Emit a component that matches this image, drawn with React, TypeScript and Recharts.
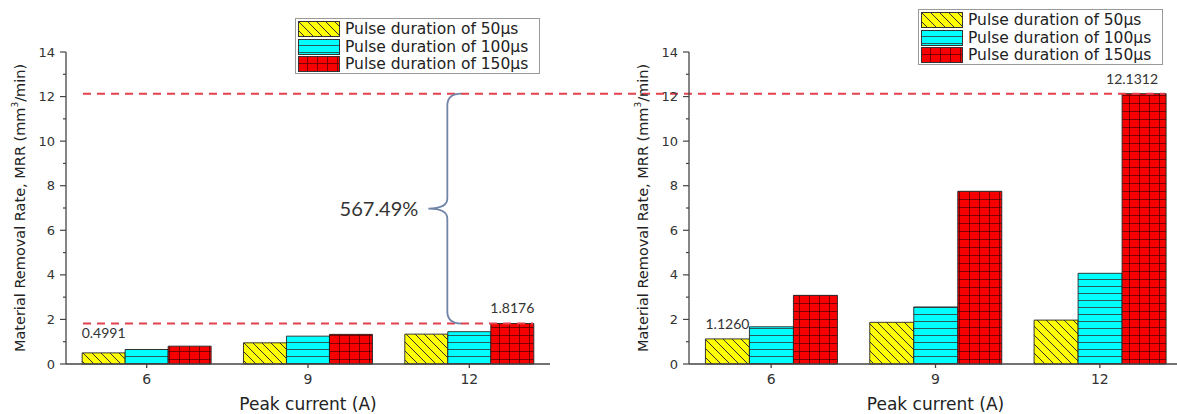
import React from 'react';
import { BarChart, Bar, XAxis, YAxis, ReferenceLine, LabelList } from 'recharts';

// Peak current categories (A)
const currents = ['6', '9', '12'];
const seriesNames = ['Pulse duration of 50μs', 'Pulse duration of 100μs', 'Pulse duration of 150μs'];

// MRR (mm3/min), first set
const leftMrr50 = [0.4991, 0.95, 1.34];
const leftMrr100 = [0.65, 1.25, 1.45];
const leftMrr150 = [0.8, 1.33, 1.8176];

// MRR (mm3/min), second set
const rightMrr50 = [1.126, 1.87, 1.97];
const rightMrr100 = [1.67, 2.56, 4.07];
const rightMrr150 = [3.08, 7.75, 12.1312];

const yTicks = [0, 1, 2, 3, 4, 5, 6, 7, 8, 9, 10, 11, 12, 13, 14];
const increaseText = '567.49%';

const leftData = currents.map((c, i) => ({ current: c, p50: leftMrr50[i], p100: leftMrr100[i], p150: leftMrr150[i] }));
const rightData = currents.map((c, i) => ({ current: c, p50: rightMrr50[i], p100: rightMrr100[i], p150: rightMrr150[i] }));

const SANS = '"DejaVu Sans", Arial, sans-serif';
const NOTE = 'Lato, "Open Sans", sans-serif';
const AXIS = '#444';
const DASH = '#e4404e';
const H = 414;

const fills = ['url(#hatch50)', 'url(#lines100)', 'url(#grid150)'];

const Patterns = () => (
  <svg width={0} height={0} style={{ position: 'absolute' }}>
    <defs>
      <pattern id="hatch50" patternUnits="userSpaceOnUse" width={9} height={9}>
        <rect width={9} height={9} fill="#ffff00" />
        <path d="M0,0 L9,9 M-2,7 L2,11 M7,-2 L11,2" stroke="#333" strokeWidth={1} />
      </pattern>
      <pattern id="lines100" patternUnits="userSpaceOnUse" width={10} height={7}>
        <rect width={10} height={7} fill="#00ffff" />
        <line x1={0} x2={10} y1={6.5} y2={6.5} stroke="#2a4a4a" strokeWidth={0.9} />
      </pattern>
      <pattern id="grid150" patternUnits="userSpaceOnUse" width={10} height={8}>
        <rect width={10} height={8} fill="#f80000" />
        <line x1={0} x2={10} y1={7.5} y2={7.5} stroke="#5a0000" strokeWidth={0.8} />
        <line x1={9.5} x2={9.5} y1={0} y2={8} stroke="#5a0000" strokeWidth={0.8} />
      </pattern>
    </defs>
  </svg>
);

// major ticks carry a label, odd values get a short minor tick
const YTick = ({ x, y, payload }: any) => {
  const major = payload.value % 2 === 0;
  return (
    <g>
      <line x1={x - (major ? 6 : 3)} x2={x} y1={y} y2={y} stroke={AXIS} strokeWidth={1.2} />
      {major && (
        <text x={x - 11} y={y} dy="0.35em" textAnchor="end" fontFamily={SANS} fontSize={13} fill="#333">
          {payload.value}
        </text>
      )}
    </g>
  );
};

const YTitle = ({ viewBox }: any) => {
  const cx = viewBox.x + 10;
  const cy = viewBox.y + viewBox.height / 2;
  return (
    <text x={cx} y={cy} transform={`rotate(-90 ${cx} ${cy})`} textAnchor="middle" dominantBaseline="central" fontFamily={SANS} fontSize={14.5} fill="#222">
      Material Removal Rate, MRR (mm<tspan dy={-5} fontSize={9}>3</tspan><tspan dy={5}>/min)</tspan>
    </text>
  );
};

const XTitle = ({ viewBox }: any) => (
  <text x={viewBox.x + viewBox.width / 2} y={viewBox.y + viewBox.height - 4} textAnchor="middle" fontFamily={SANS} fontSize={17} fill="#222">
    Peak current (A)
  </text>
);

// value tag above one chosen bar of a series
const tagAt = (index: number, lift: number, shift = 0) => (p: any) => {
  if (p.index !== index) return null;
  return (
    <text x={p.x + p.width / 2 + shift} y={p.y - lift} textAnchor="middle" fontFamily={NOTE} fontSize={14} fill="#333">
      {Number(p.value).toFixed(4)}
    </text>
  );
};

const dashed = (fromX: (p: any) => number, toX: (p: any) => number) => (p: any) => (
  <line x1={fromX(p)} x2={toX(p)} y1={p.y1} y2={p.y2} stroke={DASH} strokeWidth={2} strokeDasharray="8 6" />
);

// curly brace spanning two levels, with the increase written beside it
const Brace = (p: any) => {
  const yTop = Math.min(p.y1, p.y2);
  const yBot = Math.max(p.y1, p.y2);
  const mid = (yTop + yBot) / 2;
  const xr = p.x1 - 8;
  const xv = p.x1 - 22;
  const xt = p.x1 - 41;
  const d = `M${xr},${yTop} Q${xv},${yTop} ${xv},${yTop + 12} L${xv},${mid - 10} Q${xv},${mid} ${xt},${mid} Q${xv},${mid} ${xv},${mid + 10} L${xv},${yBot - 12} Q${xv},${yBot} ${xr},${yBot}`;
  return (
    <g>
      <path d={d} fill="none" stroke="#7185a8" strokeWidth={1.8} />
      <text x={xt - 10} y={mid} dy="0.35em" textAnchor="end" fontFamily={NOTE} fontSize={20} fill="#333">
        {increaseText}
      </text>
    </g>
  );
};

const LegendBox = ({ left, top }: { left: number; top: number }) => (
  <div style={{ position: 'absolute', left, top, width: 245, height: 56, border: '1px solid #999', background: '#fff', boxSizing: 'border-box', padding: '1px 0 0 2px' }}>
    {seriesNames.map((name, i) => (
      <div key={name} style={{ display: 'flex', alignItems: 'center', height: 17.8 }}>
        <svg width={42} height={16} style={{ flex: 'none' }}>
          <rect x={0.5} y={0.5} width={41} height={15} fill={fills[i]} stroke="#333" strokeWidth={1} />
        </svg>
        <span style={{ marginLeft: 5, fontFamily: SANS, fontSize: 15.5, color: '#222', whiteSpace: 'nowrap', lineHeight: '16px' }}>{name}</span>
      </div>
    ))}
  </div>
);

const axisProps = {
  stroke: AXIS,
  strokeWidth: 1.3,
};

const renderBars = (tags: Array<((p: any) => any) | null>) =>
  ['p50', 'p100', 'p150'].map((key, i) => (
    <Bar key={key} dataKey={key} name={seriesNames[i]} fill={fills[i]} stroke="#222" strokeWidth={0.9} isAnimationActive={false}>
      {tags[i] && <LabelList dataKey={key} content={tags[i] as any} />}
    </Bar>
  ));

const LEFT_W = 600;
const RIGHT_W = 600;

export default function App() {
  return (
    <div style={{ position: 'fixed', left: 0, top: 0, width: 1177, height: H, overflow: 'hidden', background: '#fff' }}>
      <Patterns />
      <div style={{ position: 'absolute', left: 0, top: 0 }}>
        <BarChart width={LEFT_W} height={H} data={leftData} margin={{ top: 52, right: 50, bottom: 0, left: 10 }} barCategoryGap="10%" barGap={0}>
          <XAxis dataKey="current" height={50} {...axisProps} tickSize={4} tickMargin={6} tick={{ fontFamily: SANS, fontSize: 14, fill: '#333' }} label={<XTitle />} />
          <YAxis domain={[0, 14]} ticks={yTicks} interval={0} width={56} {...axisProps} tickLine={false} tickSize={0} tickMargin={0} tick={<YTick />} label={<YTitle />} />
          {renderBars([tagAt(0, 15), null, tagAt(2, 10)])}
          <ReferenceLine y={1.8176} shape={dashed((p) => p.x1 + 17, (p) => p.x2 - 17)} />
          <ReferenceLine y={12.1312} shape={dashed((p) => p.x1 + 17, () => LEFT_W)} />
          <ReferenceLine segment={[{ x: '12', y: 1.8176 }, { x: '12', y: 12.1312 }]} shape={<Brace />} />
        </BarChart>
      </div>
      <LegendBox left={295} top={18} />
      <div style={{ position: 'absolute', left: LEFT_W, top: 0 }}>
        <BarChart width={RIGHT_W} height={H} data={rightData} margin={{ top: 52, right: 18, bottom: 0, left: 33 }} barCategoryGap="10%" barGap={0}>
          <XAxis dataKey="current" height={50} {...axisProps} tickSize={4} tickMargin={6} tick={{ fontFamily: SANS, fontSize: 14, fill: '#333' }} label={<XTitle />} />
          <YAxis domain={[0, 14]} ticks={yTicks} interval={0} width={56} {...axisProps} tickLine={false} tickSize={0} tickMargin={0} tick={<YTick />} label={<YTitle />} />
          {renderBars([tagAt(0, 10), null, tagAt(2, 10, -12)])}
          <ReferenceLine y={12.1312} shape={dashed(() => 0, (p) => p.x2 - 17)} />
        </BarChart>
      </div>
      <LegendBox left={918} top={9} />
    </div>
  );
}
